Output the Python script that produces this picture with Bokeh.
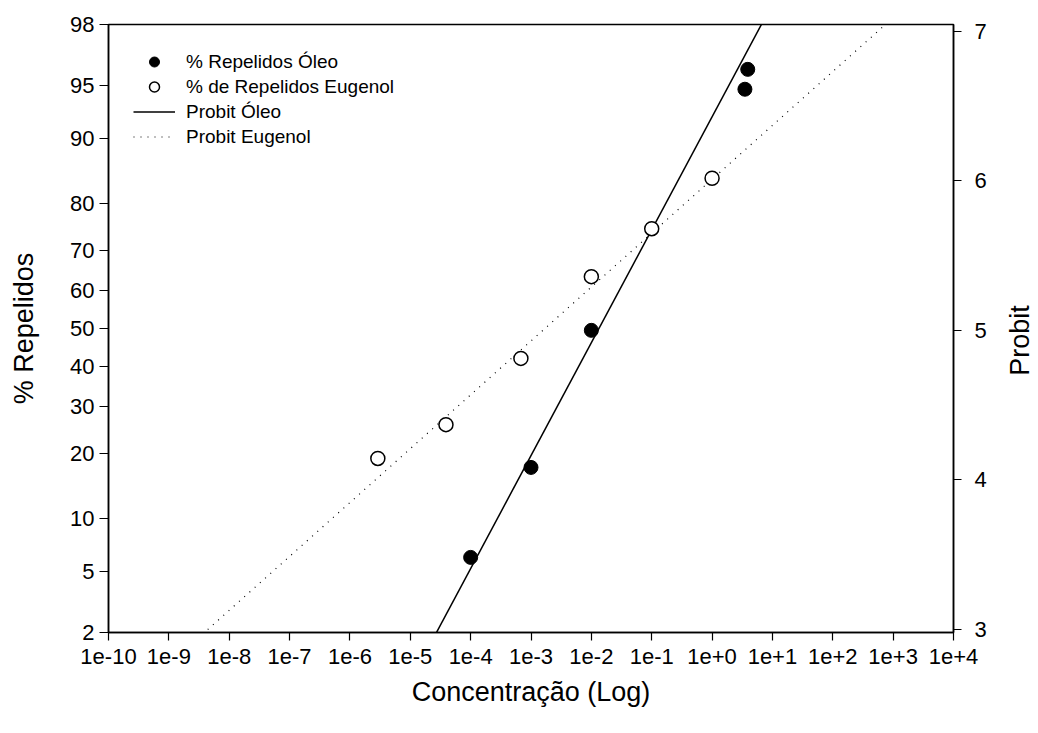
from statistics import NormalDist
import numpy as np
from bokeh.plotting import figure
from bokeh.models import (LinearAxis, Range1d, FixedTicker, CustomJSTickFormatter,
                          Legend, LegendItem, Label)
from bokeh.embed import file_html
from bokeh.resources import INLINE

# Repellency observed for each concentration
oleo_conc = [1e-4, 1e-3, 1e-2, 3.5, 3.9]
oleo_pct = [6.1, 17.4, 49.5, 94.7, 96.0]
eugenol_conc = [2.9e-6, 3.9e-5, 6.8e-4, 1e-2, 1e-1, 1.0]
eugenol_pct = [19.0, 25.8, 42.0, 63.7, 75.0, 84.5]

# Probit regressions: probit = intercept + slope * log10(concentration)
oleo_fit = {"intercept": 6.430, "slope": 0.763}
eugenol_fit = {"intercept": 6.008, "slope": 0.364}

# Axis ticks
pct_ticks = [2, 5, 10, 20, 30, 40, 50, 60, 70, 80, 90, 95, 98]
probit_ticks = [3, 4, 5, 6, 7]
log_decades = list(range(-10, 5))

FONT = "Liberation Sans"
nd = NormalDist()


def probit(pct):
    return [5.0 + nd.inv_cdf(v / 100.0) for v in pct]


y_lo, y_hi = probit([pct_ticks[0], pct_ticks[-1]])

p = figure(width=1038, height=733, x_axis_type="log",
           x_range=Range1d(10.0 ** log_decades[0], 10.0 ** log_decades[-1]),
           y_range=Range1d(y_lo, y_hi),
           output_backend="svg", toolbar_location=None,
           min_border_left=108, min_border_right=85,
           min_border_top=24, min_border_bottom=101)
p.background_fill_color = "white"
p.border_fill_color = "white"
p.outline_line_color = "black"
p.outline_line_width = 1.5
p.grid.visible = False

# probit scale on the right
p.extra_y_ranges = {"probit": Range1d(2.97993, 7.0468)}
right_axis = LinearAxis(y_range_name="probit",
                        ticker=FixedTicker(ticks=probit_ticks, minor_ticks=[]))
p.add_layout(right_axis, "right")

# bottom axis: decades of concentration
xax = p.xaxis[0]
xax.ticker = FixedTicker(ticks=[10.0 ** k for k in log_decades], minor_ticks=[])
xax.formatter = CustomJSTickFormatter(code="""
    const e = Math.round(Math.log10(tick));
    return '1e' + (e >= 0 ? '+' : '') + e;
""")
xax.axis_label = "Concentração (Log)"

# left axis: percentages on a probit scale
yax = p.yaxis[0]
y_tick_pos = probit(pct_ticks)
yax.ticker = FixedTicker(ticks=y_tick_pos, minor_ticks=[])
yax.formatter = CustomJSTickFormatter(
    args=dict(t=y_tick_pos, l=[str(v) for v in pct_ticks]),
    code="""
    let idx = 0, best = 1e9;
    for (let k = 0; k < t.length; k++) {
        const d = Math.abs(t[k] - tick);
        if (d < best) { best = d; idx = k; }
    }
    return l[idx];
""")
yax.axis_label = "% Repelidos"

for ax in (xax, yax, right_axis):
    ax.axis_line_color = "black"
    ax.axis_line_width = 1.5
    ax.major_tick_line_color = "black"
    ax.major_tick_line_width = 1.2
    ax.major_tick_in = 0
    ax.major_tick_out = 8
    ax.minor_tick_line_color = None
    ax.major_label_text_font = FONT
    ax.major_label_text_font_size = "22px"
    ax.major_label_text_color = "black"
    ax.axis_label_text_font = FONT
    ax.axis_label_text_font_size = "27px"
    ax.axis_label_text_font_style = "normal"
    ax.axis_label_text_color = "black"

yax.major_tick_out = 9
yax.major_label_standoff = 5
yax.axis_label_standoff = 28
xax.major_label_standoff = 8
xax.axis_label_standoff = 10
right_axis.major_label_standoff = 13

# fitted probit lines across the full concentration span
line_x = [10.0 ** log_decades[0], 10.0 ** log_decades[-1]]
lx = np.log10(line_x)
r_oleo_line = p.line(line_x, oleo_fit["intercept"] + oleo_fit["slope"] * lx,
                     line_color="black", line_width=1.5)
r_eug_line = p.line(line_x, eugenol_fit["intercept"] + eugenol_fit["slope"] * lx,
                    line_color="black", line_width=1.2, line_dash="1 6")

r_oleo = p.scatter(oleo_conc, probit(oleo_pct), marker="circle", size=14,
                   fill_color="black", line_color="black")
r_eug = p.scatter(eugenol_conc, probit(eugenol_pct), marker="circle", size=14,
                  fill_color="white", line_color="black", line_width=1.5)

legend = Legend(items=[
    LegendItem(label="% Repelidos Óleo", renderers=[r_oleo]),
    LegendItem(label="% de Repelidos Eugenol", renderers=[r_eug]),
    LegendItem(label="Probit Óleo", renderers=[r_oleo_line]),
    LegendItem(label="Probit Eugenol", renderers=[r_eug_line]),
], location=(25, 483))
legend.border_line_color = None
legend.background_fill_alpha = 0
legend.padding = 0
legend.margin = 0
legend.spacing = 0
legend.glyph_width = 42
legend.glyph_height = 25
legend.label_height = 25
legend.label_standoff = 11
legend.label_text_font = FONT
legend.label_text_font_size = "19px"
legend.label_text_color = "black"
p.add_layout(legend)

# title of the probit axis, reading bottom to top
p.add_layout(Label(x=30, y=292, x_units="screen", y_units="screen",
                   text="Probit", angle=np.pi / 2, text_align="center",
                   text_baseline="middle", text_font=FONT,
                   text_font_size="27px", text_color="black"), "right")

open("out.html", "w").write(file_html(p, INLINE))
